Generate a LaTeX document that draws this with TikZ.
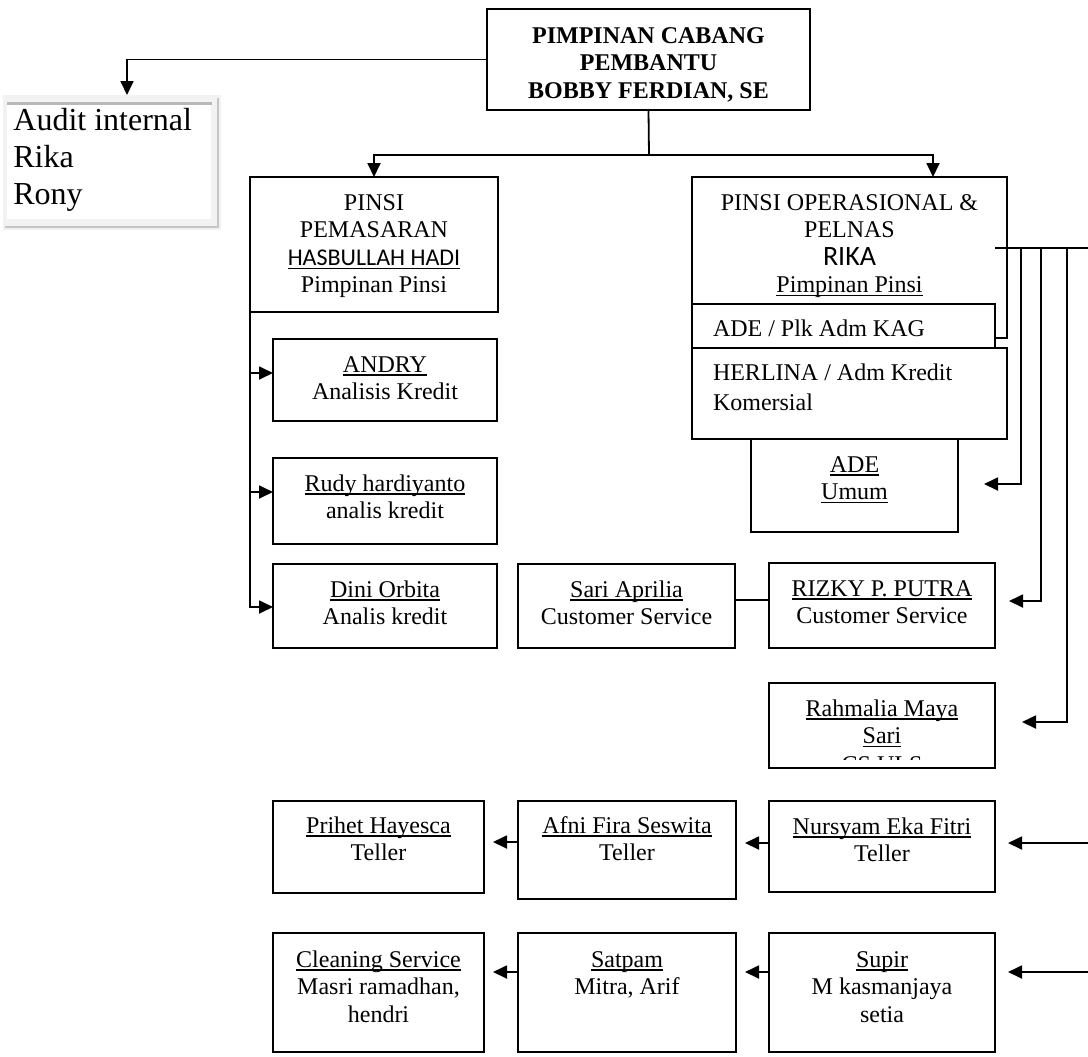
\documentclass[tikz,border=0pt]{standalone}
\usepackage{fontspec}
\setmainfont{Liberation Serif}
\newfontfamily\calibri{Carlito}
\usetikzlibrary{arrows.meta}

\newlength\px \setlength\px{0.5pt}
% underline just below the baseline
\newsavebox\ulnbox
\newcommand\uln[1]{\sbox\ulnbox{#1}\leavevmode\rlap{\rule[-1.8pt]{\wd\ulnbox}{0.6pt}}\usebox\ulnbox}
% centred and left aligned box contents, sizes in pixels
\newcommand\cellbox[4][16.5pt]{\parbox[c][#3\px][t]{#2\px}{\centering\rule{0pt}{#1}#4}}
\newcommand\lcellbox[4][16pt]{\parbox[c][#3\px][t]{#2\px}{\raggedright\leftskip=10.5pt\rule{0pt}{#1}#4}}

\tikzset{
  box/.style={draw, line width=.9pt, fill=white, inner sep=0pt, outer sep=0pt, anchor=north west, font=\fontsize{12}{13.8}\selectfont},
  link/.style={line width=.9pt},
  arr/.style={link, -{Triangle[length=7pt,width=6.5pt]}},
}

\begin{document}
\begin{tikzpicture}[x=0.5pt, y=-0.5pt]
    \useasboundingbox (0,0) rectangle (1088,1056);

    % head
    \node[box] (top) at (487,9) {\cellbox[17pt]{323}{101}{\bfseries PIMPINAN CABANG\\PEMBANTU\\BOBBY FERDIAN, SE}};

    % audit internal
    \node[inner sep=0pt, anchor=north west, fill=gray!10, minimum width=109pt, minimum height=67.5pt] (auditframe) at (3,95) {};
    \node[inner sep=0pt, anchor=north west, fill=white, font=\fontsize{16}{18.4}\selectfont] (audit) at (7,103)
        {\parbox[c][58pt][t]{102pt}{\raggedright\leftskip=3pt\rule{0pt}{13.5pt}Audit internal\\Rika\\Rony}};
    \draw[gray!55, line width=1.5pt] (audit.north west) -- (audit.north east);
    \draw[gray!45, line width=1pt] (218,98) -- (218,227) -- (5,227);
    \draw[arr] (top.west) -| (auditframe.north -| 127,0);

    % pinsi pemasaran
    \node[box] (pem) at (250,177) {\cellbox{248}{135}{PINSI\\PEMASARAN\\{\calibri\uln{HASBULLAH HADI}}\\Pimpinan Pinsi}};
    \node[box] (andry) at (273,339) {\cellbox{224}{82}{\uln{ANDRY}\\Analisis Kredit}};
    \node[box] (rudy) at (273,458) {\cellbox{224}{86}{\uln{Rudy hardiyanto}\\analis kredit}};
    \node[box] (dini) at (273,564) {\cellbox{224}{84}{\uln{Dini Orbita}\\Analis kredit}};

    % pinsi operasional
    \node[box] (opr) at (692,177) {\cellbox{315}{161}{PINSI OPERASIONAL \&\\PELNAS\\{\calibri\fontsize{14}{16}\selectfont RIKA}\\\uln{Pimpinan Pinsi}}};
    \node[box] (plk) at (692,304) {\lcellbox{303}{44}{ADE / Plk Adm KAG}};
    \node[box] (herlina) at (692,348) {\lcellbox{315}{91}{\baselineskip=15pt HERLINA / Adm Kredit\\Komersial}};
    \node[box] (umum) at (751,439) {\cellbox{207}{93}{\uln{ADE}\\\uln{Umum}}};
    \node[box] (sari) at (518,564) {\cellbox{217}{84}{\uln{Sari Aprilia}\\Customer Service}};
    \node[box] (rizky) at (769,563) {\cellbox{226}{85}{\uln{RIZKY P. PUTRA}\\Customer Service}};
    \node[box] (rahmalia) at (769,683) {\cellbox{226}{85}{\uln{Rahmalia Maya}\\\uln{Sari}}};
    \begin{scope}
        \clip (769,683) rectangle (995,759);
        \node[anchor=base, font=\fontsize{12}{13.8}\selectfont] (csuls) at (882,772) {CS ULS};
    \end{scope}

    % teller row
    \node[box] (prihet) at (273,801) {\cellbox[16pt]{211}{92}{\uln{Prihet Hayesca}\\Teller}};
    \node[box] (afni) at (518,801) {\cellbox[16pt]{218}{98}{\uln{Afni Fira Seswita}\\Teller}};
    \node[box] (nursyam) at (769,801) {\cellbox{226}{91}{\uln{Nursyam Eka Fitri}\\Teller}};

    % umum row
    \node[box] (cleaning) at (273,933) {\cellbox[17pt]{211}{119}{\uln{Cleaning Service}\\Masri ramadhan,\\hendri}};
    \node[box] (satpam) at (518,933) {\cellbox[17pt]{218}{119}{\uln{Satpam}\\Mitra, Arif}};
    \node[box] (supir) at (769,933) {\cellbox[17pt]{226}{119}{\uln{Supir}\\M kasmanjaya\\setia}};

    % head to both pinsi
    \coordinate (hub) at (649,155);
    \draw[link] (top.south) -- (hub);
    \draw[arr] (hub) -| (pem.north);
    \draw[arr] (hub) -| (opr.north -| 933,0);

    % pemasaran staff
    \draw[arr] (pem.south west) |- (dini.west |- 0,607);
    \foreach \n/\y in {andry/373, rudy/492}
    \draw[arr] (pem.south west |- 0,\y) -- (\n.west |- 0,\y);
    \draw[link] (sari.east |- 0,600) -- (rizky.west |- 0,600);

    % operasional staff
    \coordinate (bus) at (995,248);
    \draw[link] (bus) -- (1088,248);
    \foreach \x/\n/\y/\g in {1021/umum/484/13pt, 1041/rizky/601/7pt, 1067/rahmalia/722/13.5pt}
    \draw[arr, shorten >=\g] (bus -| \x,0) |- (\n.east |- 0,\y);
    \foreach \n/\y in {nursyam/843, supir/972}
    \draw[arr, shorten >=6.5pt] (1088,\y) -- (\n.east |- 0,\y);
    \foreach \f/\t/\y in {nursyam/afni/843, afni/prihet/842, supir/satpam/972, satpam/cleaning/972}
    \draw[arr, shorten >=4.5pt] (\f.west |- 0,\y) -- (\t.east |- 0,\y);
\end{tikzpicture}
\end{document}
